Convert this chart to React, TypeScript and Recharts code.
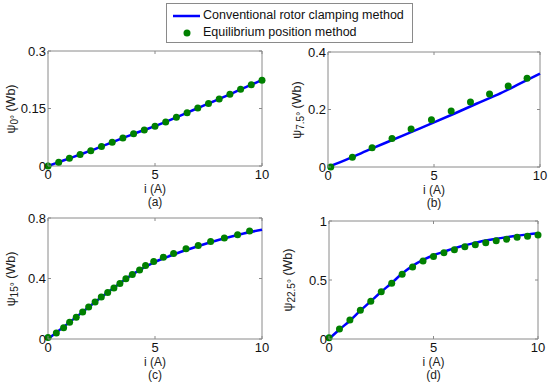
import { LineChart, Line, XAxis, YAxis, ReferenceArea } from 'recharts';

const xTicks = [0, 5, 10];

// (a) psi_0°
const aLineX = [0, 0.5, 1, 1.5, 2, 2.5, 3, 3.5, 4, 4.5, 5, 5.5, 6, 6.5, 7, 7.5, 8, 8.5, 9, 9.5, 10];
const aLineY = [0, 0.01, 0.02, 0.03, 0.04, 0.051, 0.062, 0.073, 0.084, 0.094, 0.104, 0.115, 0.127, 0.139, 0.151, 0.163, 0.175, 0.187, 0.2, 0.212, 0.225];
const aDotX = [0, 0.5, 1, 1.5, 2, 2.5, 3, 3.5, 4, 4.5, 5, 5.5, 6, 6.5, 7, 7.5, 8, 8.5, 9, 9.5, 10];
const aDotY = [0, 0.01, 0.02, 0.03, 0.04, 0.051, 0.062, 0.073, 0.084, 0.094, 0.104, 0.115, 0.127, 0.139, 0.151, 0.163, 0.175, 0.187, 0.2, 0.212, 0.224];

// (b) psi_7.5°
const bLineX = [0, 1, 2, 3, 4, 5, 6, 7, 8, 9, 10];
const bLineY = [0, 0.03, 0.062, 0.093, 0.124, 0.155, 0.187, 0.22, 0.252, 0.288, 0.325];
const bDotX = [0.13, 1.15, 2.08, 3.02, 3.92, 4.88, 5.81, 6.72, 7.62, 8.5, 9.39];
const bDotY = [0, 0.034, 0.067, 0.099, 0.132, 0.164, 0.195, 0.226, 0.254, 0.282, 0.309];

// (c) psi_15°
const cLineX = [0, 1, 2, 3, 4, 5, 6, 7, 8, 9, 10];
const cLineY = [0, 0.11, 0.222, 0.33, 0.432, 0.51, 0.565, 0.613, 0.656, 0.693, 0.723];
const cDotX = [0, 0.39, 0.73, 1.01, 1.32, 1.62, 1.9, 2.2, 2.49, 2.79, 3.08, 3.36, 3.64, 3.94, 4.28, 4.56, 4.94, 5.39, 5.87, 6.45, 7.02, 7.6, 8.24, 8.86, 9.42];
const cDotY = [0.01, 0.04, 0.075, 0.11, 0.143, 0.178, 0.211, 0.244, 0.277, 0.308, 0.338, 0.367, 0.398, 0.426, 0.457, 0.486, 0.512, 0.541, 0.565, 0.596, 0.618, 0.644, 0.668, 0.69, 0.714];

// (d) psi_22.5°
const dLineX = [0, 0.5, 1, 1.5, 2, 2.5, 3, 3.5, 4, 4.5, 5, 5.5, 6, 6.5, 7, 7.5, 8, 8.5, 9, 9.5, 10];
const dLineY = [0, 0.08, 0.155, 0.24, 0.32, 0.4, 0.475, 0.555, 0.62, 0.67, 0.71, 0.74, 0.77, 0.795, 0.815, 0.835, 0.85, 0.862, 0.875, 0.886, 0.897];
const dDotX = [0, 0.5, 1, 1.5, 2, 2.5, 3, 3.5, 4, 4.5, 5, 5.5, 6, 6.5, 7, 7.5, 8, 8.5, 9, 9.5, 10];
const dDotY = [0.01, 0.084, 0.16, 0.244, 0.319, 0.4, 0.473, 0.549, 0.611, 0.661, 0.7, 0.731, 0.756, 0.782, 0.798, 0.815, 0.832, 0.846, 0.863, 0.871, 0.882];

const FONT = '"Liberation Sans", Arial, sans-serif';
const FRAME = '#8a8a8a';
const BLUE = '#0000ff';
const GREEN = '#008000';

const zip = (xs: number[], ys: number[]) => xs.map((x, i) => ({ x, y: ys[i] }));

interface PanelProps {
  left: number;
  top: number;
  plotW: number;
  plotH: number;
  yMax: number;
  yTicks: number[];
  yLabels: string[];
  lineData: { x: number; y: number }[];
  dotData: { x: number; y: number }[];
  sub: string;
  caption: string;
  yLabelX: number;
}

const ML = 50;
const MT = 10;

function Panel(p: PanelProps) {
  const plotBottom = MT + p.plotH;
  const plotRight = ML + p.plotW;

  const XTick = (props: any) => {
    const { x, payload } = props;
    return (
      <g>
        <line x1={x} x2={x} y1={plotBottom} y2={plotBottom - 3} stroke={FRAME} />
        <line x1={x} x2={x} y1={MT} y2={MT + 3} stroke={FRAME} />
        <text x={x} y={plotBottom + 13} textAnchor="middle" fontSize={13} fill="#111" fontFamily={FONT}>
          {payload.value}
        </text>
      </g>
    );
  };

  const YTick = (props: any) => {
    const { y, payload, index } = props;
    return (
      <g>
        <line x1={ML} x2={ML + 3} y1={y} y2={y} stroke={FRAME} />
        <line x1={plotRight} x2={plotRight - 3} y1={y} y2={y} stroke={FRAME} />
        <text x={ML - 2} y={y + 4.5} textAnchor="end" fontSize={13} fill="#111" fontFamily={FONT}>
          {p.yLabels[index] ?? payload.value}
        </text>
      </g>
    );
  };

  return (
    <>
      <div style={{ position: 'absolute', left: p.left - ML, top: p.top - MT }}>
        <LineChart
          width={p.plotW + ML + 10}
          height={p.plotH + MT + 24}
          margin={{ top: MT, right: 10, left: 0, bottom: 0 }}
        >
          <XAxis
            type="number"
            dataKey="x"
            domain={[0, 10]}
            ticks={xTicks}
            height={24}
            axisLine={false}
            tickLine={false}
            tick={XTick}
            allowDuplicatedCategory={false}
          />
          <YAxis
            type="number"
            dataKey="y"
            domain={[0, p.yMax]}
            ticks={p.yTicks}
            width={ML}
            axisLine={false}
            tickLine={false}
            tick={YTick}
          />
          <ReferenceArea x1={0} x2={10} y1={0} y2={p.yMax} fill="none" stroke={FRAME} strokeWidth={1} />
          <Line
            data={p.lineData}
            dataKey="y"
            type="monotone"
            stroke={BLUE}
            strokeWidth={2.5}
            dot={false}
            isAnimationActive={false}
          />
          <Line
            data={p.dotData}
            dataKey="y"
            stroke="none"
            dot={{ r: 3.5, fill: GREEN, stroke: GREEN, strokeWidth: 0 }}
            activeDot={false}
            isAnimationActive={false}
          />
        </LineChart>
      </div>
      <div
        style={{
          position: 'absolute',
          left: p.yLabelX,
          top: p.top + p.plotH / 2,
          transform: 'translate(-50%, -50%) rotate(-90deg)',
          whiteSpace: 'nowrap',
          fontFamily: FONT,
          fontSize: 12.5,
          color: '#222',
        }}
      >
        ψ<sub style={{ fontSize: 10, verticalAlign: -3 }}>{p.sub}</sub> (Wb)
      </div>
      <div
        style={{
          position: 'absolute',
          left: p.left,
          width: p.plotW,
          top: p.top + p.plotH + 17,
          textAlign: 'center',
          fontFamily: FONT,
          fontSize: 12,
          color: '#222',
          lineHeight: '13px',
        }}
      >
        <div>i (A)</div>
        <div>{p.caption}</div>
      </div>
    </>
  );
}

export default function App() {
  return (
    <div style={{ position: 'absolute', left: 0, top: 0, width: 550, height: 388, background: '#fff', overflow: 'hidden' }}>
      <Panel left={48} top={51} plotW={214} plotH={115} yMax={0.3} yTicks={[0, 0.15, 0.3]} yLabels={['0', '0.15', '0.3']}
        lineData={zip(aLineX, aLineY)} dotData={zip(aDotX, aDotY)} sub="0°" caption="(a)" yLabelX={12} />
      <Panel left={328} top={52} plotW={212} plotH={115} yMax={0.4} yTicks={[0, 0.2, 0.4]} yLabels={['0', '0.2', '0.4']}
        lineData={zip(bLineX, bLineY)} dotData={zip(bDotX, bDotY)} sub="7.5°" caption="(b)" yLabelX={298} />
      <Panel left={48} top={218} plotW={214} plotH={121} yMax={0.8} yTicks={[0, 0.4, 0.8]} yLabels={['0', '0.4', '0.8']}
        lineData={zip(cLineX, cLineY)} dotData={zip(cDotX, cDotY)} sub="15°" caption="(c)" yLabelX={12} />
      <Panel left={329} top={221} plotW={209} plotH={118} yMax={1} yTicks={[0, 0.5, 1]} yLabels={['0', '0.5', '1']}
        lineData={zip(dLineX, dLineY)} dotData={zip(dDotX, dDotY)} sub="22.5°" caption="(d)" yLabelX={289} />

      <div
        style={{
          position: 'absolute',
          left: 166,
          top: 3,
          width: 245,
          height: 38,
          border: `1px solid ${FRAME}`,
          background: '#fff',
          fontFamily: FONT,
          fontSize: 12.5,
          color: '#111',
        }}
      >
        <svg width={36} height={38} style={{ position: 'absolute', left: 0, top: 0 }}>
          <line x1={6} x2={33} y1={12} y2={12} stroke={BLUE} strokeWidth={2.5} />
          <circle cx={20} cy={29} r={3.5} fill={GREEN} />
        </svg>
        <div style={{ position: 'absolute', left: 36, top: 4, whiteSpace: 'nowrap' }}>Conventional rotor clamping method</div>
        <div style={{ position: 'absolute', left: 36, top: 21, whiteSpace: 'nowrap' }}>Equilibrium position method</div>
      </div>
    </div>
  );
}
